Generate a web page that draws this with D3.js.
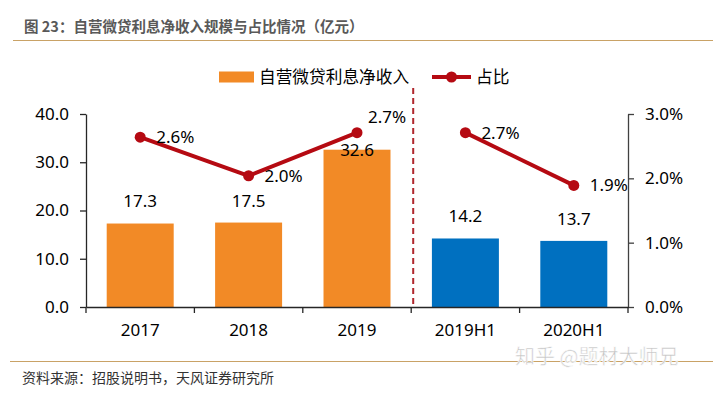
<!DOCTYPE html>
<html>
<head>
<meta charset="utf-8">
<script src="https://cdn.jsdelivr.net/npm/d3@7"></script>
<style>
  body { margin: 0; background: #fff; }
  text { font-family: "Noto Sans", "Noto Sans CJK SC", sans-serif; }
</style>
</head>
<body>
<div id="chartDiv"></div>
<script>
// data
var categories = ["2017", "2018", "2019", "2019H1", "2020H1"];
var income = [17.3, 17.5, 32.6, 14.2, 13.7];          // 亿元
var share = [2.64, 2.04, 2.71, 2.71, 1.89];           // %
var leftTicks = [0, 10, 20, 30, 40];
var rightTicks = [0, 1, 2, 3];
var annualCount = 3;   // first three are full years, rest are half years

var W = 713, H = 394;
var margin = {top: 114, right: 85, bottom: 87, left: 86};
var orange = "#F28A26", blue = "#0070C0", red = "#B50A12", tan = "#C9A266";

var svg = d3.select("#chartDiv")
  .append("svg")
    .attr("width", W)
    .attr("height", H);

// title + rules
svg.append("text")
  .attr("x", 24).attr("y", 27).attr("dy", "0.35em")
  .style("font-family", "'Noto Sans CJK SC', sans-serif")
  .style("font-size", "14.5px").style("font-weight", "bold").style("fill", "#595959")
  .text("图 23：自营微贷利息净收入规模与占比情况（亿元）");
svg.append("line").attr("x1", 13).attr("x2", W).attr("y1", 40.5).attr("y2", 40.5)
  .attr("stroke", tan).attr("stroke-width", 1.2);
svg.append("line").attr("x1", 10).attr("x2", W).attr("y1", 361.5).attr("y2", 361.5)
  .attr("stroke", tan).attr("stroke-width", 1.2);
svg.append("text")
  .attr("x", 22).attr("y", 378).attr("dy", "0.35em")
  .style("font-family", "'Noto Sans CJK SC', sans-serif")
  .style("font-size", "14px").style("fill", "#333")
  .text("资料来源：招股说明书，天风证券研究所");
svg.append("text")
  .attr("x", 515).attr("y", 357).attr("dy", "0.35em")
  .style("font-family", "'Noto Sans CJK SC', sans-serif")
  .style("font-size", "20px").style("fill", "#c4c4c4")
  .style("stroke", "#fff").style("stroke-width", 0.6)
  .text("知乎 @题材大师兄");

// scales
var x = d3.scaleBand()
  .domain(categories)
  .range([margin.left, W - margin.right])
  .paddingInner(0.382)
  .paddingOuter(0.191);
var y = d3.scaleLinear().domain([0, 40]).range([H - margin.bottom - 0, margin.top]);
y.range([307, 114]);
var yR = d3.scaleLinear().domain([0, 3]).range([307, 114]);
var step = x.step();
function boundary(i) { return x.range()[0] + i * step; }
function cx(d) { return x(d) + x.bandwidth() / 2; }

// bars
svg.selectAll("rect.bar")
  .data(categories)
  .enter()
  .append("rect")
    .attr("class", "bar")
    .attr("x", function(d) { return x(d); })
    .attr("y", function(d, i) { return y(income[i]); })
    .attr("width", x.bandwidth())
    .attr("height", function(d, i) { return y(0) - y(income[i]); })
    .attr("fill", function(d, i) { return i < annualCount ? orange : blue; });

// left axis
var gL = svg.append("g")
  .attr("transform", "translate(" + x.range()[0] + ",0)")
  .call(d3.axisLeft(y).tickValues(leftTicks).tickFormat(d3.format(".1f")).tickSize(6).tickPadding(11).tickSizeOuter(0));
gL.select(".domain").attr("stroke", "#262626").attr("stroke-width", 1.3);
gL.selectAll(".tick line").attr("stroke", "#262626").attr("stroke-width", 1.3);
gL.selectAll("text").style("font-size", "17px").style("fill", "#000");

// right axis
var gR = svg.append("g")
  .attr("transform", "translate(" + x.range()[1] + ",0)")
  .call(d3.axisRight(yR).tickValues(rightTicks).tickFormat(function(d) { return d.toFixed(1) + "%"; }).tickSize(6).tickPadding(11).tickSizeOuter(0));
gR.select(".domain").attr("stroke", "#404040").attr("stroke-width", 1.3);
gR.selectAll(".tick line").attr("stroke", "#404040").attr("stroke-width", 1.3);
gR.selectAll("text").style("font-size", "17px").style("fill", "#000");

// bottom axis: labels at band centres, ticks at band boundaries
var gB = svg.append("g")
  .attr("transform", "translate(0," + y(0) + ")")
  .call(d3.axisBottom(x).tickSize(0).tickPadding(17).tickSizeOuter(0));
gB.select(".domain").attr("stroke", "#262626").attr("stroke-width", 1.3);
gB.selectAll("text").style("font-size", "17px").style("fill", "#000");
gB.selectAll("line.sep")
  .data(d3.range(categories.length + 1))
  .enter()
  .append("line")
    .attr("class", "sep")
    .attr("x1", function(i) { return boundary(i); })
    .attr("x2", function(i) { return boundary(i); })
    .attr("y1", 0).attr("y2", 6)
    .attr("stroke", "#262626").attr("stroke-width", 1.3);

// divider between full years and half years
svg.append("line")
  .attr("x1", boundary(annualCount) + 2).attr("x2", boundary(annualCount) + 2)
  .attr("y1", 88).attr("y2", y(0))
  .attr("stroke", "#B0262C").attr("stroke-width", 2)
  .attr("stroke-dasharray", "6,4");

// share line, one piece per period type
var line = d3.line()
  .x(function(i) { return cx(categories[i]); })
  .y(function(i) { return yR(share[i]); });
var pieces = [d3.range(0, annualCount), d3.range(annualCount, categories.length)];
svg.selectAll("path.share")
  .data(pieces)
  .enter()
  .append("path")
    .attr("class", "share")
    .attr("d", line)
    .attr("fill", "none")
    .attr("stroke", red)
    .attr("stroke-width", 4);
svg.selectAll("circle.dot")
  .data(categories)
  .enter()
  .append("circle")
    .attr("class", "dot")
    .attr("cx", function(d) { return cx(d); })
    .attr("cy", function(d, i) { return yR(share[i]); })
    .attr("r", 5.5)
    .attr("fill", red);

// a bar label that would sit on the line point goes down onto the bar top,
// and the line label moves up instead
function crowded(i) {
  return Math.abs(y(income[i]) - 22 - yR(share[i])) < 20;
}

svg.selectAll("text.barlbl")
  .data(categories)
  .enter()
  .append("text")
    .attr("class", "barlbl")
    .attr("x", function(d) { return cx(d); })
    .attr("y", function(d, i) { return crowded(i) ? y(income[i]) : y(income[i]) - 22; })
    .attr("dy", "0.35em")
    .attr("text-anchor", "middle")
    .style("font-size", "17px").style("fill", "#000")
    .text(function(d, i) { return income[i].toFixed(1); });

svg.selectAll("text.sharelbl")
  .data(categories)
  .enter()
  .append("text")
    .attr("class", "sharelbl")
    .attr("x", function(d, i) { return cx(d) + (crowded(i) ? 11 : 16); })
    .attr("y", function(d, i) { return yR(share[i]) - (crowded(i) ? 16 : 0); })
    .attr("dy", "0.35em")
    .style("font-size", "17px").style("fill", "#000")
    .text(function(d, i) { return share[i].toFixed(1) + "%"; });

// legend
var lg = svg.append("g");
lg.append("rect").attr("x", 219).attr("y", 71.5).attr("width", 35).attr("height", 11).attr("fill", orange);
lg.append("text").attr("x", 259).attr("y", 77).attr("dy", "0.35em")
  .style("font-family", "'Noto Sans CJK SC', sans-serif")
  .style("font-size", "16.7px").style("fill", "#000").text("自营微贷利息净收入");
lg.append("line").attr("x1", 432).attr("x2", 471).attr("y1", 77).attr("y2", 77)
  .attr("stroke", red).attr("stroke-width", 4);
lg.append("circle").attr("cx", 451.5).attr("cy", 77).attr("r", 5.5).attr("fill", red);
lg.append("text").attr("x", 476).attr("y", 77).attr("dy", "0.35em")
  .style("font-family", "'Noto Sans CJK SC', sans-serif")
  .style("font-size", "16.7px").style("fill", "#000").text("占比");
</script>
</body>
</html>
